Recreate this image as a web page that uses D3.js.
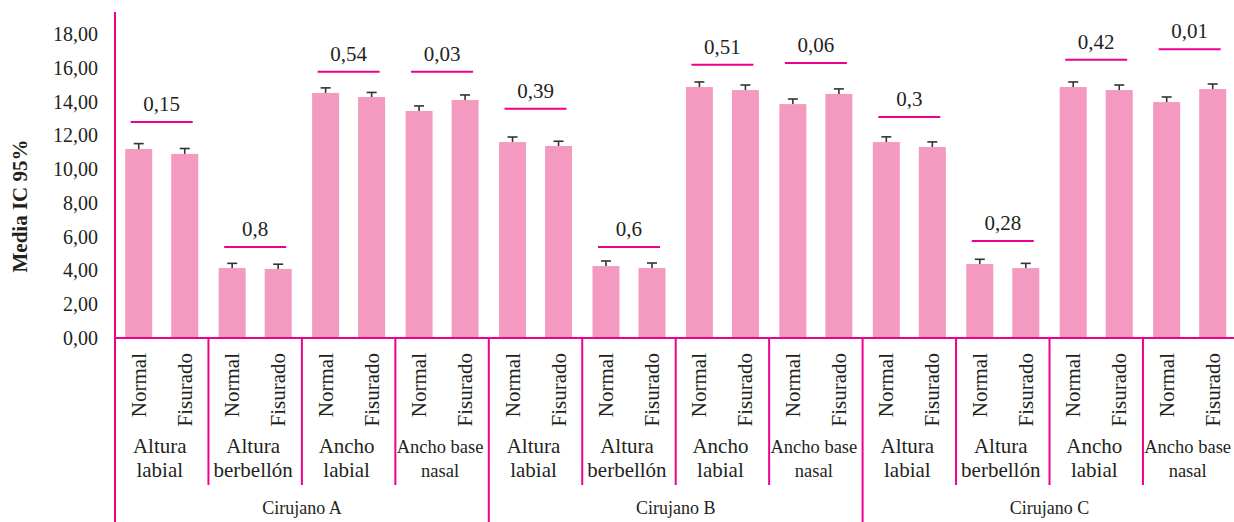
<!DOCTYPE html>
<html><head><meta charset="utf-8">
<script src="https://cdn.jsdelivr.net/npm/d3@7/dist/d3.min.js"></script>
<style>
html,body{margin:0;padding:0;background:#fff;overflow:hidden;}
svg{display:block;font-family:"Liberation Serif","Times New Roman","DejaVu Serif",serif;}
</style></head>
<body>
<svg id="chart" width="1234" height="522"></svg>
<script>
// ---- data ----
const surgeons = ["Cirujano A", "Cirujano B", "Cirujano C"];
const measures = ["Altura|labial", "Altura|berbellón", "Ancho|labial", "Ancho base|nasal"];
const groups = ["Normal", "Fisurado"];
const normalMeans   = [11.19, 4.14, 14.51, 13.44, 11.60, 4.26, 14.86, 13.85, 11.60, 4.38, 14.86, 13.97];
const fisuradoMeans = [10.90, 4.09, 14.27, 14.09, 11.37, 4.14, 14.68, 14.45, 11.31, 4.14, 14.68, 14.74];
const normalCI   = [0.32, 0.28, 0.30, 0.30, 0.30, 0.30, 0.30, 0.30, 0.31, 0.28, 0.30, 0.30];
const fisuradoCI = [0.32, 0.28, 0.27, 0.30, 0.28, 0.30, 0.30, 0.30, 0.30, 0.28, 0.30, 0.30];
const pValues = ["0,15", "0,8", "0,54", "0,03", "0,39", "0,6", "0,51", "0,06", "0,3", "0,28", "0,42", "0,01"];
const bracketLevels = [12.79, 5.39, 15.77, 15.77, 13.58, 5.39, 16.18, 16.28, 13.09, 5.74, 16.48, 17.09];
const yTicks = [0, 2, 4, 6, 8, 10, 12, 14, 16, 18];
const yTitle = "Media IC 95%";

// ---- build rows ----
const cells = [];
surgeons.forEach((s, si) => measures.forEach((m, mi) => cells.push({s, si, m, mi, i: si * measures.length + mi})));

const pink = "#f49ac1", mag = "#ec008c", ink = "#231f20";
const svg = d3.select("#chart");
const x0 = 115, yBase = 338;
const x = d3.scaleBand().domain(cells.map(c => c.i)).range([x0, 1236.4]).padding(0);
const xi = d3.scaleBand().domain(groups).range([0, x.bandwidth()]).paddingInner(0.413).paddingOuter(0.222);
const y = d3.scaleLinear().domain([0, 18]).range([yBase, 34]);
const fmt = v => d3.format(".2f")(v).replace(".", ",");

// y tick labels
svg.append("g").selectAll("text").data(yTicks).join("text")
  .attr("x", 98).attr("y", d => y(d)).attr("dy", "0.35em")
  .attr("text-anchor", "end").attr("font-size", 20).attr("fill", ink).text(fmt);

// y title
svg.append("text").attr("transform", `translate(27,206) rotate(-90)`)
  .attr("text-anchor", "middle").attr("font-size", 21).attr("font-weight", "bold")
  .attr("fill", ink).text(yTitle);

// bars
const bars = [];
cells.forEach(c => {
  bars.push({c, g: "Normal", v: normalMeans[c.i], e: normalCI[c.i]});
  bars.push({c, g: "Fisurado", v: fisuradoMeans[c.i], e: fisuradoCI[c.i]});
});
const bg = svg.append("g");
bg.selectAll("rect").data(bars).join("rect")
  .attr("x", d => x(d.c.i) + xi(d.g)).attr("width", xi.bandwidth())
  .attr("y", d => y(d.v)).attr("height", d => yBase - y(d.v)).attr("fill", pink);

// error bars
const eg = svg.append("g").attr("stroke", "#333").attr("stroke-width", 1.6);
eg.selectAll("line.stem").data(bars).join("line").attr("class", "stem")
  .attr("x1", d => x(d.c.i) + xi(d.g) + xi.bandwidth() / 2).attr("x2", d => x(d.c.i) + xi(d.g) + xi.bandwidth() / 2)
  .attr("y1", d => y(d.v)).attr("y2", d => y(d.v + d.e));
eg.selectAll("line.cap").data(bars).join("line").attr("class", "cap")
  .attr("x1", d => x(d.c.i) + xi(d.g) + xi.bandwidth() / 2 - 5).attr("x2", d => x(d.c.i) + xi(d.g) + xi.bandwidth() / 2 + 5)
  .attr("y1", d => y(d.v + d.e)).attr("y2", d => y(d.v + d.e));

// p-value brackets
const pg = svg.append("g");
pg.selectAll("line").data(cells).join("line")
  .attr("x1", d => x(d.i) + x.bandwidth() / 2 - 31).attr("x2", d => x(d.i) + x.bandwidth() / 2 + 31)
  .attr("y1", d => y(bracketLevels[d.i])).attr("y2", d => y(bracketLevels[d.i]))
  .attr("stroke", mag).attr("stroke-width", 2);
pg.selectAll("text").data(cells).join("text")
  .attr("x", d => x(d.i) + x.bandwidth() / 2).attr("y", d => y(bracketLevels[d.i]) - 11)
  .attr("text-anchor", "middle").attr("font-size", 21).attr("fill", ink).text(d => pValues[d.i]);

// axis lines
const ag = svg.append("g").attr("stroke", mag).attr("stroke-width", 2);
ag.append("line").attr("x1", x0).attr("x2", x0).attr("y1", 12).attr("y2", 522);
ag.append("line").attr("x1", x0).attr("x2", 1234).attr("y1", yBase).attr("y2", yBase);
ag.selectAll("line.sep").data(cells.filter(c => c.i > 0)).join("line").attr("class", "sep")
  .attr("x1", d => x(d.i)).attr("x2", d => x(d.i))
  .attr("y1", yBase).attr("y2", d => d.mi === 0 ? 522 : 485);

// group labels (rotated)
const lg = svg.append("g").attr("fill", ink).attr("font-size", 21);
lg.selectAll("text.grp").data(bars).join("text").attr("class", "grp")
  .attr("transform", d => `translate(${x(d.c.i) + xi(d.g) + xi.bandwidth() / 2 + 7},353) rotate(-90)`)
  .attr("text-anchor", "end").text(d => d.g);

// measure labels
cells.forEach(c => {
  const lines = c.m.split("|");
  const small = c.mi === 3;
  const t = lg.append("text").attr("text-anchor", "middle").attr("font-size", small ? 18.5 : 21);
  lines.forEach((ln, k) => t.append("tspan").attr("x", x(c.i) + x.bandwidth() / 2 - 2).attr("y", 453 + k * 23.5).text(ln));
});

// surgeon labels
svg.append("g").selectAll("text").data(surgeons).join("text")
  .attr("x", (d, si) => (x(si * 4) + x(si * 4 + 3) + x.bandwidth()) / 2)
  .attr("y", 514).attr("text-anchor", "middle").attr("font-size", 18).attr("fill", ink).text(d => d);
</script>
</body></html>
